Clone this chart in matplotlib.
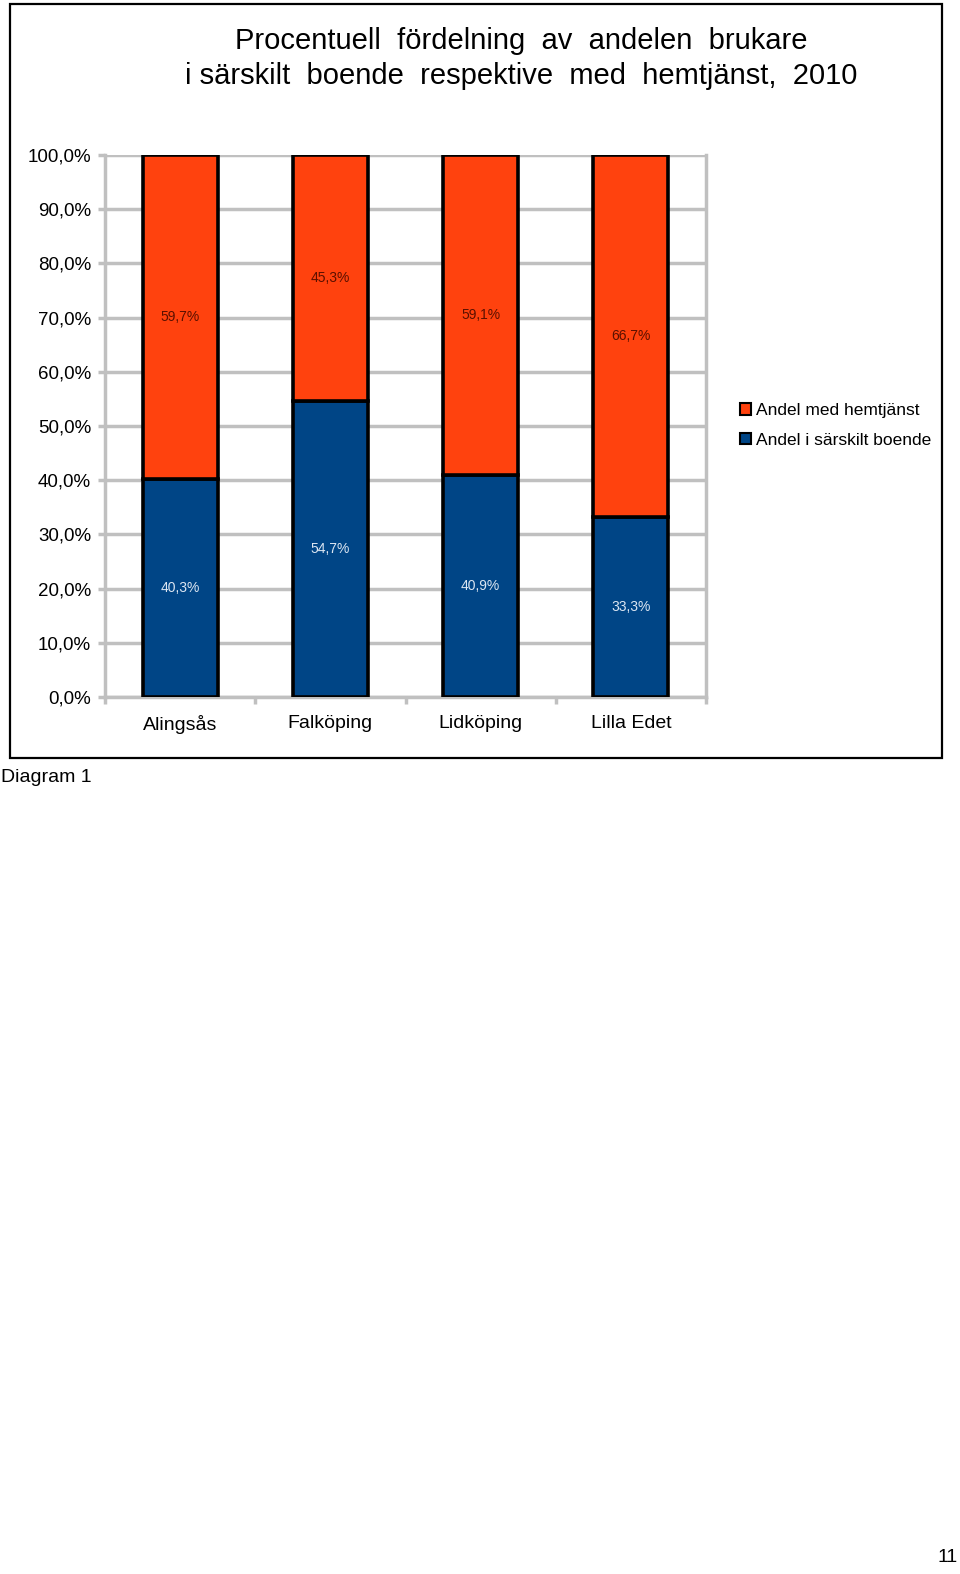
import matplotlib.pyplot as plt
from matplotlib.patches import Rectangle, Patch

plt.rcParams['font.family'] = ['Liberation Sans', 'DejaVu Sans']

# data
kommuner = ['Alingsås', 'Falköping', 'Lidköping', 'Lilla Edet']
sarskilt_boende = [40.3, 54.7, 40.9, 33.3]
hemtjanst = [59.7, 45.3, 59.1, 66.7]
yticks = [0, 10, 20, 30, 40, 50, 60, 70, 80, 90, 100]

blue = '#004586'
orange = '#ff420e'
grid_c = '#c0c0c0'

W, H = 960, 1574
fig = plt.figure(figsize=(W / 100, H / 100), dpi=100)

# box around the chart
fig.patches.append(Rectangle((10 / W, 1 - 758 / H), 932 / W, 754 / H,
                             transform=fig.transFigure, fill=False,
                             edgecolor='black', linewidth=1.6))

ax = fig.add_axes([105 / W, 1 - 697 / H, 601 / W, 542 / H])

x = list(range(len(kommuner)))
ax.bar(x, sarskilt_boende, width=0.5, color=blue, edgecolor='black',
       linewidth=2.6, zorder=3, label='Andel i särskilt boende')
ax.bar(x, hemtjanst, width=0.5, bottom=sarskilt_boende, color=orange,
       edgecolor='black', linewidth=2.6, zorder=3, label='Andel med hemtjänst')

for i in x:
    b = sarskilt_boende[i]
    h = hemtjanst[i]
    ax.text(i, b / 2, f'{b:.1f}%'.replace('.', ','), ha='center', va='center',
            fontsize=10, color='#dce6f2', zorder=4)
    ax.text(i, b + h / 2, f'{h:.1f}%'.replace('.', ','), ha='center',
            va='center', fontsize=10, color='#5a1000', zorder=4)

ax.set_xlim(-0.5, 3.5)
ax.set_ylim(0, 100)
ax.set_yticks(yticks)
ax.set_yticklabels([f'{v},0%' for v in yticks], fontsize=13.5)
ax.yaxis.grid(True, color=grid_c, linewidth=2.5, zorder=0)

ax.set_xticks([-0.5, 0.5, 1.5, 2.5, 3.5])
ax.set_xticklabels([])
ax.set_xticks(x, minor=True)
ax.set_xticklabels(kommuner, minor=True, fontsize=14)
ax.tick_params(axis='x', which='minor', length=0, pad=13)
ax.tick_params(axis='x', which='major', length=5, width=2.5, color=grid_c)
ax.tick_params(axis='y', length=5, width=2.5, color=grid_c, pad=5)

ax.spines['top'].set_visible(False)
for s in ['left', 'right', 'bottom']:
    ax.spines[s].set_color(grid_c)
    ax.spines[s].set_linewidth(2.5)

handles = [Patch(facecolor=orange, edgecolor='black', linewidth=1.5),
           Patch(facecolor=blue, edgecolor='black', linewidth=1.5)]
fig.legend(handles, ['Andel med hemtjänst', 'Andel i särskilt boende'],
           loc='upper left', bbox_to_anchor=(733 / W, 1 - 396 / H),
           frameon=False, fontsize=12.5, handlelength=0.65, handleheight=0.65,
           handletextpad=0.25, labelspacing=0.85, borderaxespad=0)

fig.text(521 / W, 1 - 41 / H, 'Procentuell  fördelning  av  andelen  brukare',
         ha='center', va='center', fontsize=21)
fig.text(521 / W, 1 - 76 / H, 'i särskilt  boende  respektive  med  hemtjänst,  2010',
         ha='center', va='center', fontsize=21)

fig.text(1 / W, 1 - 778 / H, 'Diagram 1', ha='left', va='center', fontsize=14)
fig.text(958 / W, 1 - 1558 / H, '11', ha='right', va='center', fontsize=14)

fig.savefig('out.png', dpi=100)
